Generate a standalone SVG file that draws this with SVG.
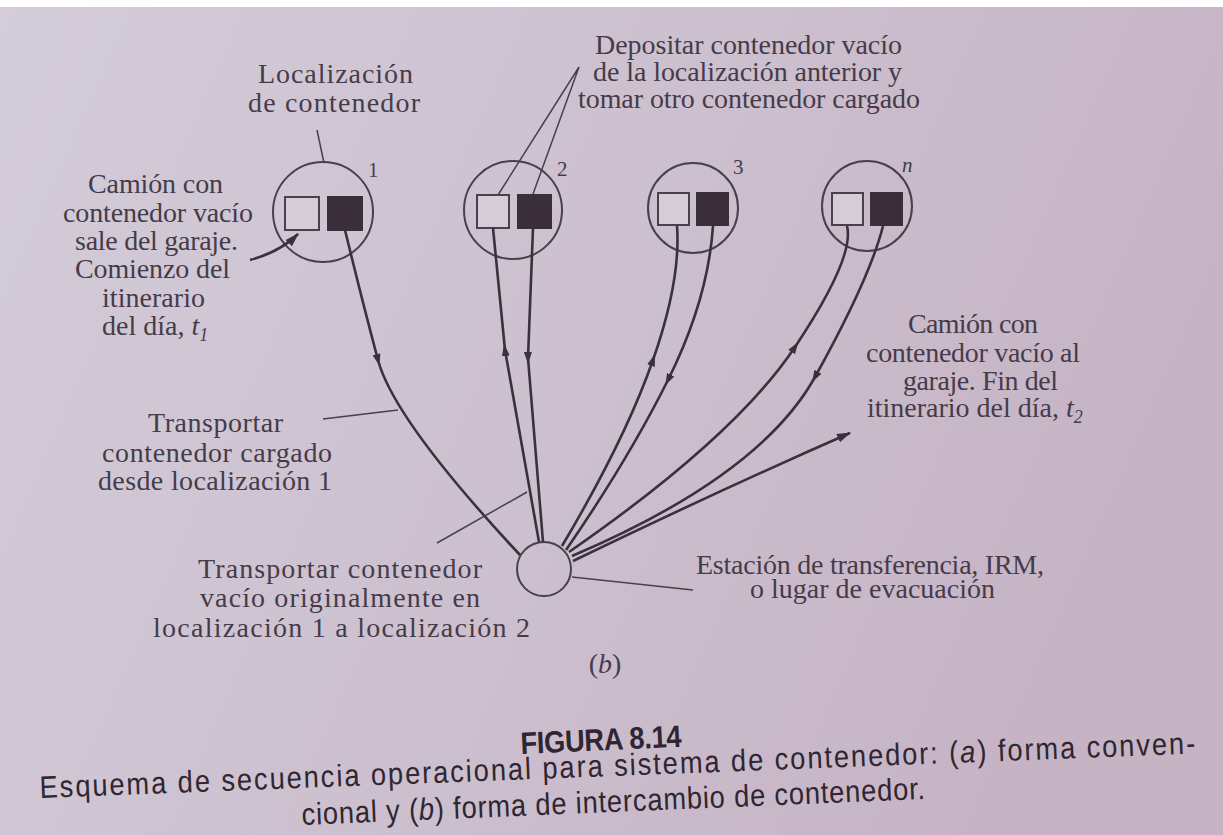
<svg xmlns="http://www.w3.org/2000/svg" width="1223" height="835" viewBox="0 0 1223 835">
<defs>
<linearGradient id="bg" x1="0" y1="0" x2="1" y2="0.3">
<stop offset="0" stop-color="#d3ccd9"/>
<stop offset="0.5" stop-color="#cdc1d0"/>
<stop offset="1" stop-color="#c6b4c5"/>
</linearGradient>
<marker id="mid" viewBox="0 0 12 10" refX="6" refY="5" markerWidth="12" markerHeight="10" markerUnits="userSpaceOnUse" orient="auto">
<path d="M0,1 L12,5 L0,9 z" fill="#3b303d"/>
</marker>
<marker id="end" viewBox="0 0 14 10" refX="13" refY="5" markerWidth="14" markerHeight="10" markerUnits="userSpaceOnUse" orient="auto">
<path d="M0,0.5 L14,5 L0,9.5 z" fill="#3b303d"/>
</marker>
<style>
.t{font-family:"Liberation Serif","Times New Roman",serif;font-size:28px;fill:#463b48}
.num{font-family:"Liberation Serif","Times New Roman",serif;font-size:21px;fill:#463b48}
.cap{font-family:"Liberation Sans",Arial,sans-serif;font-size:31px;fill:#2f2631}
.ln{fill:none;stroke:#3b303d;stroke-width:2.6}
.ptr{fill:none;stroke:#4a3f4c;stroke-width:1.5}
.ring{fill:none;stroke:#4a3f4c;stroke-width:2}
.sqw{fill:#d6ccd8;stroke:#4a3f4c;stroke-width:2}
.sqb{fill:#3a2e3b;stroke:#3a2e3b;stroke-width:2}
</style>
</defs>
<rect x="0" y="0" width="1223" height="835" fill="url(#bg)"/>
<rect x="0" y="0" width="1223" height="7" fill="#ffffff"/>

<g id="loc1">
<circle class="ring" cx="323" cy="212" r="50"/>
<rect class="sqw" x="285" y="197" width="34" height="33"/>
<rect class="sqb" x="328" y="197" width="34" height="33"/>
<text class="num" x="368" y="177">1</text>
</g>
<g id="loc2">
<circle class="ring" cx="513" cy="210" r="49"/>
<rect class="sqw" x="477" y="195" width="32" height="33"/>
<rect class="sqb" x="518" y="195" width="33" height="33"/>
<text class="num" x="557" y="176">2</text>
</g>
<g id="loc3">
<circle class="ring" cx="693" cy="208" r="45"/>
<rect class="sqw" x="658" y="193" width="31" height="32"/>
<rect class="sqb" x="697" y="193" width="31" height="32"/>
<text class="num" x="733" y="174">3</text>
</g>
<g id="locn">
<circle class="ring" cx="867" cy="206" r="45"/>
<rect class="sqw" x="832" y="193" width="31" height="32"/>
<rect class="sqb" x="871" y="193" width="31" height="32"/>
<text class="num" x="902" y="172" font-style="italic">n</text>
</g>
<g id="hub">
<circle class="ring" cx="544" cy="569" r="27"/>
</g>

<g id="connectors">
<path class="ln" d="M345,230 Q362,300 378,360 T520,555" marker-mid="url(#mid)"/>
<path class="ln" d="M539,542 L505,350 L493,228" marker-mid="url(#mid)"/>
<path class="ln" d="M533,228 L528,358 L543,542" marker-mid="url(#mid)"/>
<path class="ln" d="M562,546 Q625,440 653,360 T677,226" marker-mid="url(#mid)"/>
<path class="ln" d="M713,226 Q708,300 668,380 T566,550" marker-mid="url(#mid)"/>
<path class="ln" d="M569,552 Q735,437 795,347 T847,226" marker-mid="url(#mid)"/>
<path class="ln" d="M883,226 Q870,278 815,377 T572,556" marker-mid="url(#mid)"/>
<path class="ln" d="M573,561 Q720,490 850,433" marker-end="url(#end)"/>
<path class="ln" d="M250,260 Q280,252 298,234" marker-end="url(#end)"/>
<line class="ptr" x1="317" y1="130" x2="324" y2="163"/>
<polyline class="ptr" points="498,195 579,67 533,194"/>
<line class="ptr" x1="323" y1="419" x2="398" y2="410"/>
<line class="ptr" x1="437" y1="543" x2="527" y2="492"/>
<line class="ptr" x1="572" y1="577" x2="693" y2="590"/>
</g>

<g id="label-localizacion">
<text class="t" x="335.5" y="83" text-anchor="middle" textLength="155" lengthAdjust="spacing">Localización</text>
<text class="t" x="334" y="112" text-anchor="middle" textLength="172" lengthAdjust="spacing">de contenedor</text>
</g>
<g id="label-depositar">
<text class="t" x="748.5" y="54" font-size="27" text-anchor="middle" textLength="307" lengthAdjust="spacing">Depositar contenedor vacío</text>
<text class="t" x="747.5" y="81" font-size="27" text-anchor="middle" textLength="309" lengthAdjust="spacing">de la localización anterior y</text>
<text class="t" x="749" y="108" font-size="27" text-anchor="middle" textLength="342" lengthAdjust="spacing">tomar otro contenedor cargado</text>
</g>
<g id="label-inicio">
<text class="t" x="155.5" y="193" text-anchor="middle" textLength="135" lengthAdjust="spacing">Camión con</text>
<text class="t" x="158" y="222" text-anchor="middle" textLength="190" lengthAdjust="spacing">contenedor vacío</text>
<text class="t" x="156.5" y="250" text-anchor="middle" textLength="163" lengthAdjust="spacing">sale del garaje.</text>
<text class="t" x="152.5" y="278" text-anchor="middle" textLength="155" lengthAdjust="spacing">Comienzo del</text>
<text class="t" x="153.5" y="307" text-anchor="middle" textLength="103" lengthAdjust="spacing">itinerario</text>
<text class="t" x="102" y="335">del día, <tspan font-style="italic">t</tspan><tspan font-style="italic" font-size="18" dy="6">1</tspan></text>
</g>
<g id="label-fin">
<text class="t" x="973" y="333" text-anchor="middle" textLength="130" lengthAdjust="spacing">Camión con</text>
<text class="t" x="973" y="362" text-anchor="middle" textLength="214" lengthAdjust="spacing">contenedor vacío al</text>
<text class="t" x="980.5" y="390" text-anchor="middle" textLength="155" lengthAdjust="spacing">garaje. Fin del</text>
<text class="t" x="867" y="417">itinerario del día, <tspan font-style="italic">t</tspan><tspan font-style="italic" font-size="18" dy="6">2</tspan></text>
</g>
<g id="label-cargado">
<text class="t" x="215.5" y="432" text-anchor="middle" textLength="135" lengthAdjust="spacing">Transportar</text>
<text class="t" x="217" y="462" text-anchor="middle" textLength="230" lengthAdjust="spacing">contenedor cargado</text>
<text class="t" x="215" y="490" text-anchor="middle" textLength="234" lengthAdjust="spacing">desde localización 1</text>
</g>
<g id="label-vacio">
<text class="t" x="340" y="578" text-anchor="middle" textLength="284" lengthAdjust="spacing">Transportar contenedor</text>
<text class="t" x="340" y="607" text-anchor="middle" textLength="280" lengthAdjust="spacing">vacío originalmente en</text>
<text class="t" x="341.5" y="637" text-anchor="middle" textLength="377" lengthAdjust="spacing">localización 1 a  localización 2</text>
</g>
<g id="label-estacion">
<text class="t" x="870" y="574" font-size="26" text-anchor="middle" textLength="348" lengthAdjust="spacing">Estación de transferencia, IRM,</text>
<text class="t" x="872.5" y="598" font-size="26" text-anchor="middle" textLength="245" lengthAdjust="spacing">o lugar de evacuación</text>
</g>
<g id="label-b">
<text class="t" x="605" y="673" text-anchor="middle" font-size="26">(<tspan font-style="italic">b</tspan>)</text>
</g>

<g id="caption">
<text class="cap" x="0" y="0" font-weight="bold" textLength="183" lengthAdjust="spacing" transform="translate(521 754) rotate(-2.6) scale(0.88 1)">FIGURA 8.14</text>
<text class="cap" x="0" y="0" textLength="1314" lengthAdjust="spacing" transform="translate(40 798) rotate(-2.2) scale(0.88 1)">Esquema de secuencia operacional para sistema de contenedor: (<tspan font-style="italic">a</tspan>) forma conven-</text>
<text class="cap" x="0" y="0" textLength="709" lengthAdjust="spacing" transform="translate(302 825) rotate(-2.4) scale(0.88 1)">cional y (<tspan font-style="italic">b</tspan>) forma de intercambio de contenedor.</text>
</g>
</svg>
